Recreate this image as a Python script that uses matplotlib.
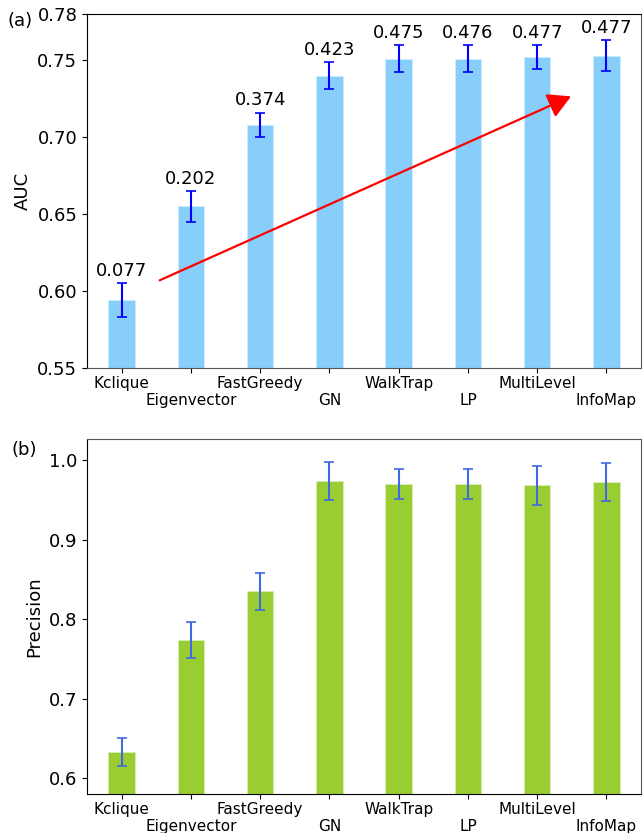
import matplotlib
matplotlib.use("Agg")
from matplotlib import pyplot as plt

methods = ["Kclique", "Eigenvector", "FastGreedy", "GN", "WalkTrap", "LP", "MultiLevel", "InfoMap"]
auc = [0.594, 0.655, 0.708, 0.740, 0.751, 0.751, 0.752, 0.753]
auc_err = [0.011, 0.010, 0.008, 0.009, 0.009, 0.009, 0.008, 0.010]
auc_notes = ["0.077", "0.202", "0.374", "0.423", "0.475", "0.476", "0.477", "0.477"]
precision = [0.633, 0.774, 0.835, 0.974, 0.970, 0.970, 0.968, 0.972]
precision_err = [0.018, 0.023, 0.023, 0.024, 0.019, 0.019, 0.025, 0.024]

x = list(range(len(methods)))


def stagger(ax):
    # every other label sits one line lower
    ax.set_xticks(x)
    ax.set_xticklabels(methods, fontsize=11)
    for i, t in enumerate(ax.xaxis.get_major_ticks()):
        t.set_pad(2 if i % 2 == 0 else 14.5)


fig = plt.figure(figsize=(6.43, 8.33), dpi=100)
ax1 = fig.add_axes([0.1353, 0.5582, 0.8616, 0.425])
ax2 = fig.add_axes([0.1353, 0.0468, 0.8616, 0.4262])

# (a) AUC
ax1.bar(x, auc, width=0.38, color="lightskyblue", edgecolor="#cdebfb", linewidth=0.6)
ax1.errorbar(x, auc, yerr=auc_err, fmt="none", ecolor="blue", elinewidth=1.5, capsize=3.5, capthick=1.2)
for i in x:
    ax1.text(i, auc[i] + auc_err[i] + 0.002, auc_notes[i], ha="center", va="bottom", fontsize=13)
ax1.annotate("", xy=(6.49, 0.7265), xytext=(0.55, 0.607),
             arrowprops=dict(arrowstyle="-|>,head_length=1.0,head_width=0.55", color="red",
                             lw=1.6, mutation_scale=14, shrinkA=0, shrinkB=0))
ax1.set_xlim(-0.5, 7.5)
ax1.set_ylim(0.55, 0.78)
ax1.set_yticks([0.55, 0.60, 0.65, 0.70, 0.75, 0.78])
ax1.set_yticklabels(["0.55", "0.60", "0.65", "0.70", "0.75", "0.78"])
ax1.set_ylabel("AUC", fontsize=13)
ax1.tick_params(axis="y", labelsize=13)
stagger(ax1)
ax1.spines["bottom"].set_color("#555555")
ax1.spines["right"].set_color("#555555")
fig.text(0.012, 0.975, "(a)", fontsize=13, va="center")

# (b) Precision
ax2.bar(x, precision, width=0.38, color="yellowgreen", edgecolor="#d8efb5", linewidth=0.6)
ax2.errorbar(x, precision, yerr=precision_err, fmt="none", ecolor="royalblue", elinewidth=1.5, capsize=3.5, capthick=1.2)
ax2.set_xlim(-0.5, 7.5)
ax2.set_ylim(0.5803, 1.0264)
ax2.set_yticks([0.6, 0.7, 0.8, 0.9, 1.0])
ax2.set_yticklabels(["0.6", "0.7", "0.8", "0.9", "1.0"])
ax2.set_ylabel("Precision", fontsize=13)
ax2.tick_params(axis="y", labelsize=13)
stagger(ax2)
ax2.spines["top"].set_color("#555555")
ax2.spines["right"].set_color("#555555")
fig.text(0.018, 0.46, "(b)", fontsize=13, va="center")

plt.savefig("out.png", dpi=100)
